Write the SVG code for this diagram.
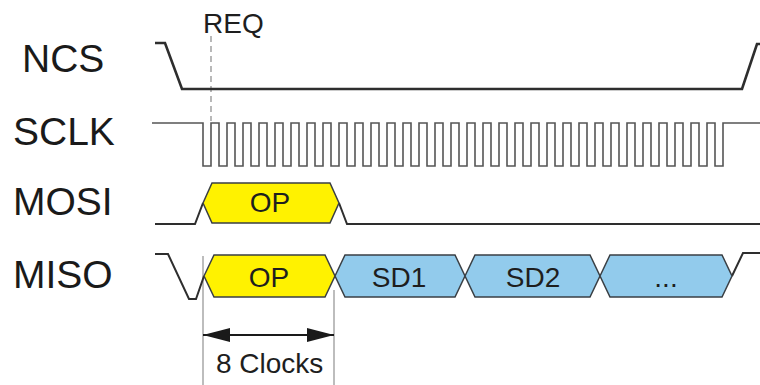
<svg xmlns="http://www.w3.org/2000/svg" width="760" height="385" viewBox="0 0 760 385">
<defs>
<style>
.lbl{font-family:"Liberation Sans",Arial,sans-serif;font-size:39px;fill:#1a1a1a}
.sm{font-family:"Liberation Sans",Arial,sans-serif;font-size:28px;fill:#1e1e1e}
.mid{text-anchor:middle}
.sig{fill:none;stroke:#2e2e2e;stroke-width:2;stroke-linejoin:miter}
.clk{fill:none;stroke:#555;stroke-width:1.6}
.hex{stroke:#3a3f44;stroke-width:1.5;stroke-linejoin:miter}
.yel{fill:#fff200}
.blu{fill:#92cbec}
.guide{stroke:#9a9a9a;stroke-width:1.3;fill:none}
</style>
<marker id="ah" markerUnits="userSpaceOnUse" markerWidth="28" markerHeight="14" refX="27" refY="7" orient="auto-start-reverse">
<path d="M0,0 L27,7 L0,14 z" fill="#1a1a1a"/>
</marker>
</defs>
<rect width="760" height="385" fill="#ffffff"/>

<g id="labels">
<text class="lbl" x="22" y="72">NCS</text>
<text class="lbl" x="13" y="145">SCLK</text>
<text class="lbl" x="13" y="215">MOSI</text>
<text class="lbl" x="13" y="288">MISO</text>
</g>

<g id="req">
<text class="sm" x="203" y="33">REQ</text>
<line x1="211" y1="36" x2="211" y2="121" stroke="#8a8a8a" stroke-width="1.2" stroke-dasharray="6,4"/>
</g>

<g id="ncs">
<path class="sig" style="stroke-width:2.6" d="M155,43 H165 L182,89 H742 L757,44 H760"/>
</g>

<g id="sclk">
<path class="clk" d="M152,123 H203
V166h8V123h8 V166h8V123h8 V166h8V123h8 V166h8V123h8 V166h8V123h8 V166h8V123h8 V166h8V123h8 V166h8V123h8 V166h8V123h8 V166h8V123h8 V166h8V123h8
V166h8V123h8 V166h8V123h8 V166h8V123h8 V166h8V123h8 V166h8V123h8 V166h8V123h8 V166h8V123h8 V166h8V123h8 V166h8V123h8 V166h8V123h8 V166h8V123h8
V166h8V123h8 V166h8V123h8 V166h8V123h8 V166h8V123h8 V166h8V123h8 V166h8V123h8 V166h8V123h8 V166h8V123h8 V166h8V123h8 V166h8V123h8 V166h8V123h8
H760"/>
</g>

<g id="mosi">
<path class="sig" d="M155,224 H195 L203,203"/>
<path class="sig" d="M339,203 L347,224 H760"/>
<polygon class="hex yel" points="203,203 212,183 330,183 339,203 330,223 212,223"/>
<text class="sm mid" x="270" y="212">OP</text>
</g>

<g id="clocks-guide">
<line class="guide" x1="203" y1="256" x2="203" y2="385"/>
<line class="guide" x1="334" y1="290" x2="334" y2="385"/>
<line x1="203" y1="335" x2="334" y2="335" stroke="#1a1a1a" stroke-width="2" marker-start="url(#ah)" marker-end="url(#ah)"/>
<text class="sm" x="216" y="373">8 Clocks</text>
</g>

<g id="miso">
<path class="sig" d="M155,254 H168 L189,299 H196 L204,276"/>
<path class="sig" d="M732,276 L743,253 H760"/>
<polygon class="hex yel" points="204,276 214,255 325,255 335,276 325,297 214,297"/>
<polygon class="hex blu" points="335,276 345,255 455,255 465,276 455,297 345,297"/>
<polygon class="hex blu" points="465,276 475,255 590,255 600,276 590,297 475,297"/>
<polygon class="hex blu" points="600,276 610,255 722,255 732,276 722,297 610,297"/>
<text class="sm mid" x="269" y="287">OP</text>
<text class="sm mid" x="399" y="287">SD1</text>
<text class="sm mid" x="533" y="287">SD2</text>
<text class="sm mid" x="666" y="287">...</text>
</g>
</svg>
